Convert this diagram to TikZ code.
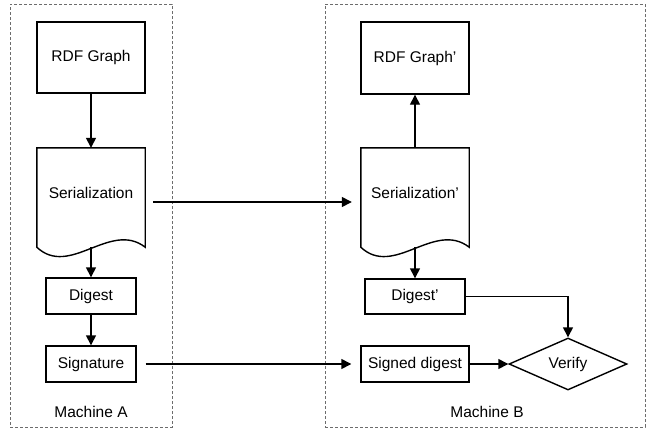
\documentclass[tikz,border=0pt]{standalone}
\usepackage{fontspec}
\setmainfont{Liberation Sans}
\usetikzlibrary{shapes.geometric,arrows.meta}
\begin{document}
\begin{tikzpicture}[x=1pt,y=-1pt,
  every node/.style={font=\fontsize{15.5}{18}\selectfont},
  machine/.style={draw=gray!85!black,line width=0.8pt,dash pattern=on 3pt off 2pt,rectangle,inner sep=0pt},
  procbox/.style={draw,line width=1.4pt,rectangle,inner sep=0pt},
  docnode/.style={rectangle,inner sep=0pt},
  docline/.style={line width=1.4pt,line join=miter},
  arr/.style={line width=1.4pt,-{Triangle[length=10pt,width=10pt]}},
  dec/.style={draw,line width=1.4pt,diamond,aspect=2.27,inner sep=0pt,minimum width=118pt,minimum height=52pt}]
\useasboundingbox[fill=white] (0,0) rectangle (649,429);
% machine frames
\node[machine,minimum width=162pt,minimum height=423pt] (boxA) at (91,215.5) {};
\node[machine,minimum width=320pt,minimum height=423pt] (boxB) at (485,215.5) {};
\node (labA) at (91,412) {Machine A};
\node (labB) at (487,412) {Machine B};
% machine A
\node[procbox,minimum width=108pt,minimum height=71pt] (rdfA) at (91,57.5) {RDF Graph};
\node[docnode,minimum width=108pt,minimum height=99pt] (serA) at (91,197.5) {\raisebox{4.5pt}[\height][\depth]{Serialization}};
\draw[docline] (serA.south west) -- (serA.north west) -- (serA.north east) -- (serA.south east)
  .. controls +(-35,-27) and +(33,31) .. (serA.south west) -- cycle;
\node[procbox,minimum width=90pt,minimum height=36pt] (digA) at (91,296) {Digest};
\node[procbox,minimum width=90pt,minimum height=36pt] (sigA) at (91,364) {Signature};
% machine B
\node[procbox,minimum width=108pt,minimum height=72pt] (rdfB) at (415,58) {RDF Graph’};
\node[docnode,minimum width=108pt,minimum height=99pt] (serB) at (415,197.5) {\raisebox{4.5pt}[\height][\depth]{Serialization’}};
\draw[docline] (serB.south west) -- (serB.north west) -- (serB.north east) -- (serB.south east)
  .. controls +(-35,-27) and +(33,31) .. (serB.south west) -- cycle;
\node[procbox,minimum width=100pt,minimum height=35pt] (digB) at (415,296.5) {Digest’};
\node[procbox,minimum width=108pt,minimum height=36pt] (sigB) at (415,364) {Signed digest};
\node[dec] (ver) at (568,364) {Verify};
% connectors
\draw[arr] (rdfA.south) -- (serA.north);
\draw[arr] (serA.south) -- (digA.north);
\draw[arr] (digA.south) -- (sigA.north);
\draw[arr] ([xshift=8pt,yshift=-4.5pt]serA.east) -- ([xshift=-9pt,yshift=-4.5pt]serB.west);
\draw[arr] ([xshift=9pt]sigA.east) -- ([xshift=-9pt]sigB.west);
\draw[arr] (serB.north) -- (rdfB.south);
\draw[arr] (serB.south) -- (digB.north);
\draw[arr] (digB.east) -| (ver.north);
\draw[arr] (sigB.east) -- (ver.west);
\end{tikzpicture}
\end{document}
